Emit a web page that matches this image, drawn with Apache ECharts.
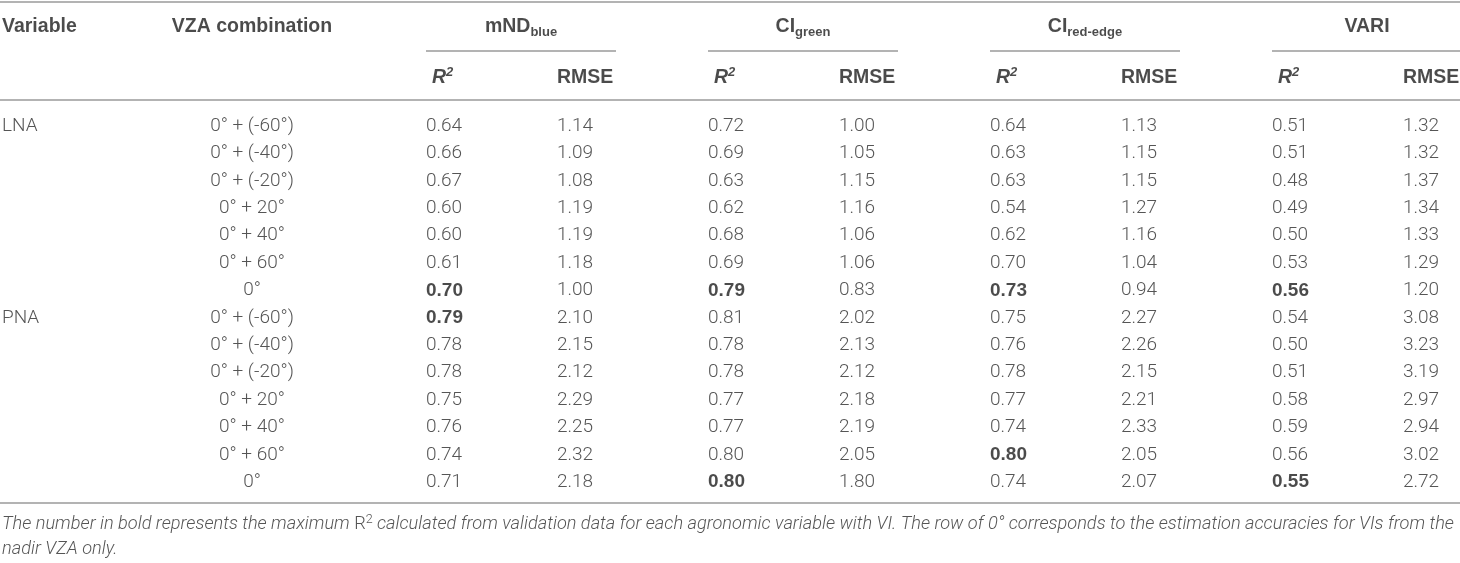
<!DOCTYPE html>
<html lang="en">
  <head>
    <meta charset="UTF-8" />
    <title>VZA combination accuracy table</title>
    <style>
      * {
        padding: 0;
        margin: 0;
      }
      body {
        background: #fff;
      }
    </style>
    <script src="https://cdn.jsdelivr.net/npm/echarts@6/dist/echarts.min.js"></script>
  </head>
  <body>
    <div id="main" style="width: 1460px; height: 563px;"></div>
    <script type="text/javascript">
      // table content
      const variables = ['LNA', 'PNA'];
      const vzaCombos = ['0° + (-60°)', '0° + (-40°)', '0° + (-20°)', '0° + 20°', '0° + 40°', '0° + 60°', '0°'];
      const indexBase = ['mND', 'CI', 'CI', 'VARI'];
      const indexSub = ['blue', 'green', 'red-edge', ''];

      // LNA rows first (7), then PNA rows (7)
      const mndR2 = [0.64, 0.66, 0.67, 0.60, 0.60, 0.61, 0.70, 0.79, 0.78, 0.78, 0.75, 0.76, 0.74, 0.71];
      const mndRmse = [1.14, 1.09, 1.08, 1.19, 1.19, 1.18, 1.00, 2.10, 2.15, 2.12, 2.29, 2.25, 2.32, 2.18];
      const ciGreenR2 = [0.72, 0.69, 0.63, 0.62, 0.68, 0.69, 0.79, 0.81, 0.78, 0.78, 0.77, 0.77, 0.80, 0.80];
      const ciGreenRmse = [1.00, 1.05, 1.15, 1.16, 1.06, 1.06, 0.83, 2.02, 2.13, 2.12, 2.18, 2.19, 2.05, 1.80];
      const ciRedR2 = [0.64, 0.63, 0.63, 0.54, 0.62, 0.70, 0.73, 0.75, 0.76, 0.78, 0.77, 0.74, 0.80, 0.74];
      const ciRedRmse = [1.13, 1.15, 1.15, 1.27, 1.16, 1.04, 0.94, 2.27, 2.26, 2.15, 2.21, 2.33, 2.05, 2.07];
      const variR2 = [0.51, 0.51, 0.48, 0.49, 0.50, 0.53, 0.56, 0.54, 0.50, 0.51, 0.58, 0.59, 0.56, 0.55];
      const variRmse = [1.32, 1.32, 1.37, 1.34, 1.33, 1.29, 1.20, 3.08, 3.23, 3.19, 2.97, 2.94, 3.02, 2.72];
      // rows whose R2 is printed in bold, per index
      const boldRows = [[6, 7], [6, 13], [6, 12], [6, 13]];

      const footLine1a = 'The number in bold represents the maximum ';
      const footLine1b = ' calculated from validation data for each agronomic variable with VI. The row of 0° corresponds to the estimation accuracies for VIs from the';
      const footLine2 = 'nadir VZA only.';

      const r2Cols = [mndR2, ciGreenR2, ciRedR2, variR2];
      const rmseCols = [mndRmse, ciGreenRmse, ciRedRmse, variRmse];

      // layout (x in px along the x axis, y in row units)
      const groupX = [426, 708, 990, 1272];
      const groupW = 190;
      const rmseDx = 131;
      const vzaX = 252;
      const yHead1 = -3.62, ySub = -2.74, yHead2 = -1.77, yRule = -0.95, yTop = -4.545;
      const yBottom = 13.76, yFoot1 = 14.56, yFoot2 = 15.47;

      const dataFont = { fontFamily: 'Roboto', fontWeight: 300, fontSize: 19, color: '#2a2a2a' };
      const boldFont = { fontFamily: 'Liberation Sans', fontWeight: 'bold', fontSize: 19, color: '#1e1e1e' };

      const cells = [];
      variables.forEach((v, g) => {
        cells.push({ value: [2, g * 7], label: { formatter: v, align: 'left' } });
        vzaCombos.forEach((c, i) => {
          cells.push({ value: [vzaX, g * 7 + i], label: { formatter: c, align: 'center' } });
        });
      });
      r2Cols.forEach((col, k) => {
        col.forEach((val, row) => {
          const isBold = boldRows[k].indexOf(row) >= 0;
          cells.push({
            value: [groupX[k], row],
            label: Object.assign({ formatter: val.toFixed(2), align: 'left' }, isBold ? boldFont : {})
          });
        });
      });
      rmseCols.forEach((col, k) => {
        col.forEach((val, row) => {
          cells.push({ value: [groupX[k] + rmseDx, row], label: { formatter: val.toFixed(2), align: 'left' } });
        });
      });

      const heads = [
        { value: [2, yHead1], label: { formatter: '{m|Variable}', align: 'left' } },
        { value: [vzaX, yHead1], label: { formatter: '{m|VZA combination}', align: 'center' } }
      ];
      indexBase.forEach((b, k) => {
        const txt = indexSub[k] ? '{m|' + b + '}{s|' + indexSub[k] + '}' : '{m|' + b + '}';
        heads.push({ value: [groupX[k] + groupW / 2, yHead1], label: { formatter: txt, align: 'center' } });
        heads.push({ value: [groupX[k] + 6, yHead2], label: { formatter: '{r|R}{p|2}', align: 'left' } });
        heads.push({ value: [groupX[k] + rmseDx, yHead2], label: { formatter: '{m|RMSE}', align: 'left' } });
      });

      const foot = [
        { value: [2, yFoot1], label: { formatter: '{i|' + footLine1a + '}{u|R}{p|2}{i|' + footLine1b + '}' } },
        { value: [2, yFoot2], label: { formatter: '{i|' + footLine2 + '}' } }
      ];

      const fullRule = y => [{ coord: [0, y] }, { coord: [1460, y] }];
      const rules = [fullRule(yTop), fullRule(yRule), fullRule(yBottom)];
      groupX.forEach(x => {
        rules.push([{ coord: [x, ySub] }, { coord: [Math.min(x + groupW, 1460), ySub] }]);
      });

      const hidden = { symbolSize: 1, itemStyle: { color: 'rgba(0,0,0,0)' }, silent: true };

      var myChart = echarts.init(document.getElementById('main'));

      var option = {
        animation: false,
        backgroundColor: '#fff',
        grid: { left: 0, right: 0, top: 0, bottom: 0 },
        xAxis: { type: 'value', min: 0, max: 1460, show: false },
        yAxis: { type: 'value', min: -4.6, max: 15.95, inverse: true, show: false },
        series: [
          Object.assign({
            type: 'scatter',
            name: 'cells',
            data: cells,
            label: Object.assign({ show: true, position: 'inside', verticalAlign: 'middle' }, dataFont),
            markLine: {
              silent: true,
              symbol: ['none', 'none'],
              label: { show: false },
              lineStyle: { type: 'solid', color: '#9a9a9a', width: 1.5 },
              data: rules
            }
          }, hidden),
          Object.assign({
            type: 'scatter',
            name: 'heads',
            data: heads,
            label: {
              show: true,
              position: 'inside',
              verticalAlign: 'middle',
              rich: {
                m: { fontFamily: 'Liberation Sans', fontWeight: 'bold', fontSize: 19.5, color: '#1e1e1e', lineHeight: 24 },
                s: { fontFamily: 'Liberation Sans', fontWeight: 'bold', fontSize: 13, color: '#1e1e1e', lineHeight: 11, verticalAlign: 'bottom' },
                r: { fontFamily: 'Liberation Sans', fontWeight: 'bold', fontStyle: 'italic', fontSize: 19.5, color: '#1e1e1e', lineHeight: 24 },
                p: { fontFamily: 'Liberation Sans', fontWeight: 'bold', fontStyle: 'italic', fontSize: 13, color: '#1e1e1e', lineHeight: 12, verticalAlign: 'top' }
              }
            }
          }, hidden),
          Object.assign({
            type: 'scatter',
            name: 'footnote',
            data: foot,
            label: {
              show: true,
              position: 'inside',
              align: 'left',
              verticalAlign: 'middle',
              rich: {
                i: { fontFamily: 'Roboto', fontWeight: 300, fontStyle: 'italic', fontSize: 18.2, color: '#2a2a2a', lineHeight: 24 },
                u: { fontFamily: 'Roboto', fontWeight: 300, fontSize: 18.2, color: '#2a2a2a', lineHeight: 24 },
                p: { fontFamily: 'Roboto', fontWeight: 300, fontSize: 12.5, color: '#2a2a2a', lineHeight: 12, verticalAlign: 'top' }
              }
            }
          }, hidden)
        ]
      };

      myChart.setOption(option, true);
    </script>
  </body>
</html>
